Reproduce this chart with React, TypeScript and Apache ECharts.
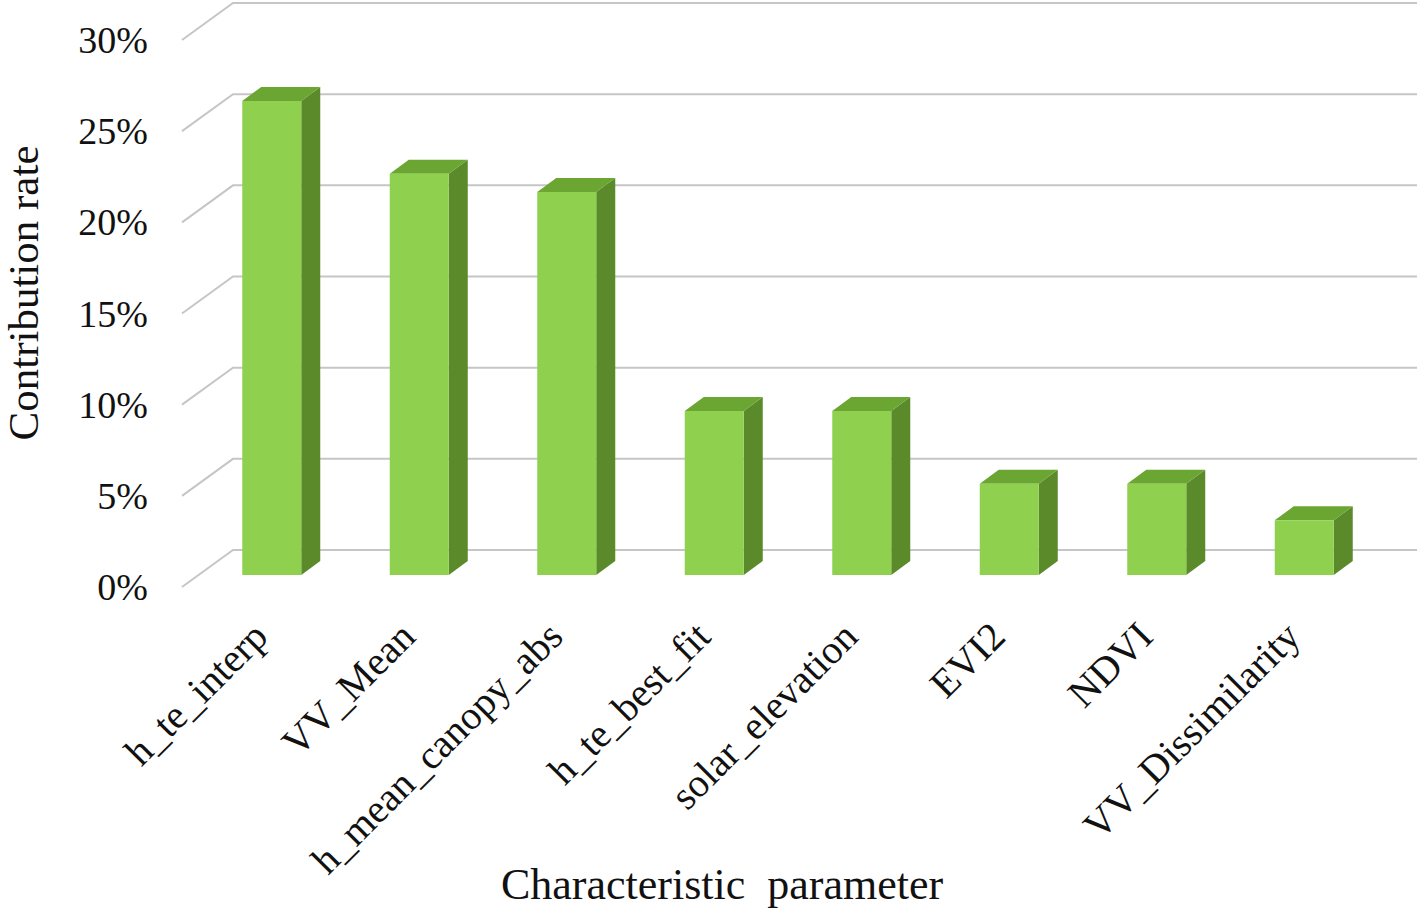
import React, { useEffect, useRef } from "react";
import * as echarts from "echarts";

const categories: string[] = [
  "h_te_interp",
  "VV_Mean",
  "h_mean_canopy_abs",
  "h_te_best_fit",
  "solar_elevation",
  "EVI2",
  "NDVI",
  "VV_Dissimilarity",
];
const contribution: number[] = [0.26, 0.22, 0.21, 0.09, 0.09, 0.05, 0.05, 0.03];
const yTicks: number[] = [0, 0.05, 0.1, 0.15, 0.2, 0.25, 0.3];

const yAxisTitle = "Contribution rate";
const xAxisTitle = "Characteristic  parameter";

const FONT = "'Liberation Serif', 'Times New Roman', serif";
const FRONT = "#8fd14f";
const TOP = "#6ba532";
const SIDE = "#5a8a2a";
const GRID_COLOR = "#c6c6c6";

export default function App() {
  const ref = useRef<HTMLDivElement>(null);

  useEffect(() => {
    if (!ref.current) return;
    const chart = echarts.init(ref.current, null, { renderer: "svg" });

    const option: any = {
      animation: false,
      backgroundColor: "#ffffff",
      grid: [
        // bar plane
        { left: 198, right: 39, top: 28, bottom: 336, containLabel: false },
        // front plane (labels + gridlines)
        { left: 182, right: 55, top: 40, bottom: 324, containLabel: false },
      ],
      xAxis: [
        {
          type: "category",
          gridIndex: 0,
          data: categories,
          axisLine: { show: false },
          axisTick: { show: false },
          axisLabel: {
            interval: 0,
            rotate: 45,
            margin: 43,
            padding: [0, 16, 0, 0],
            fontFamily: FONT,
            fontSize: 40,
            color: "#111",
          },
        },
        {
          type: "category",
          gridIndex: 1,
          data: categories,
          show: false,
        },
      ],
      yAxis: [
        {
          type: "value",
          gridIndex: 0,
          min: 0,
          max: 0.3,
          interval: 0.05,
          show: false,
        },
        {
          type: "value",
          gridIndex: 1,
          min: 0,
          max: 0.3,
          interval: 0.05,
          axisLine: { show: false },
          axisTick: { show: false },
          splitLine: { show: false },
          axisLabel: {
            margin: 34,
            fontFamily: FONT,
            fontSize: 38,
            color: "#111",
            formatter: (v: number) => Math.round(v * 100) + "%",
          },
        },
      ],
      series: [
        {
          type: "custom",
          name: "gridlines",
          xAxisIndex: 1,
          yAxisIndex: 1,
          silent: true,
          z: 1,
          data: yTicks.map((v) => [0, v]),
          renderItem: (params: any, api: any) => {
            const cs = params.coordSys;
            const y = api.coord([0, api.value(1)])[1];
            return {
              type: "polyline",
              shape: {
                points: [
                  [cs.x, y],
                  [cs.x + 51, y - 37],
                  [cs.x + cs.width + 55, y - 37],
                ],
              },
              style: { stroke: GRID_COLOR, lineWidth: 2, fill: "none" },
            };
          },
        },
        {
          type: "custom",
          name: "Contribution rate",
          xAxisIndex: 0,
          yAxisIndex: 0,
          z: 2,
          data: contribution.map((v, i) => [i, v]),
          renderItem: (params: any, api: any) => {
            const idx = api.value(0);
            const v = api.value(1);
            const top = api.coord([idx, v]);
            const base = api.coord([idx, 0]);
            const bw = api.size([1, 0])[0] * 0.4;
            const x0 = top[0] - bw / 2;
            const x1 = top[0] + bw / 2;
            const yT = top[1];
            const yB = base[1];
            const dx = 19;
            const dy = -14;
            return {
              type: "group",
              children: [
                {
                  type: "polygon",
                  shape: {
                    points: [
                      [x1, yT],
                      [x1, yB],
                      [x1 + dx, yB + dy],
                      [x1 + dx, yT + dy],
                    ],
                  },
                  style: { fill: SIDE },
                },
                {
                  type: "polygon",
                  shape: {
                    points: [
                      [x0, yT],
                      [x1, yT],
                      [x1 + dx, yT + dy],
                      [x0 + dx, yT + dy],
                    ],
                  },
                  style: { fill: TOP },
                },
                {
                  type: "rect",
                  shape: { x: x0, y: yT, width: bw, height: yB - yT },
                  style: { fill: FRONT },
                },
              ],
            };
          },
        },
      ],
      graphic: [
        {
          type: "text",
          x: 23,
          y: 293,
          rotation: Math.PI / 2,
          style: {
            text: yAxisTitle,
            fontFamily: FONT,
            fontSize: 43,
            lineHeight: 40,
            fill: "#111",
            align: "center",
            verticalAlign: "middle",
          },
        },
        {
          type: "text",
          x: 722,
          y: 884,
          style: {
            text: xAxisTitle,
            fontFamily: FONT,
            fontSize: 44,
            fill: "#111",
            align: "center",
            verticalAlign: "middle",
          },
        },
      ],
    };

    chart.setOption(option);
    return () => chart.dispose();
  }, []);

  return (
    <div
      ref={ref}
      style={{ position: "fixed", left: 0, top: 0, width: 1417, height: 911 }}
    />
  );
}
